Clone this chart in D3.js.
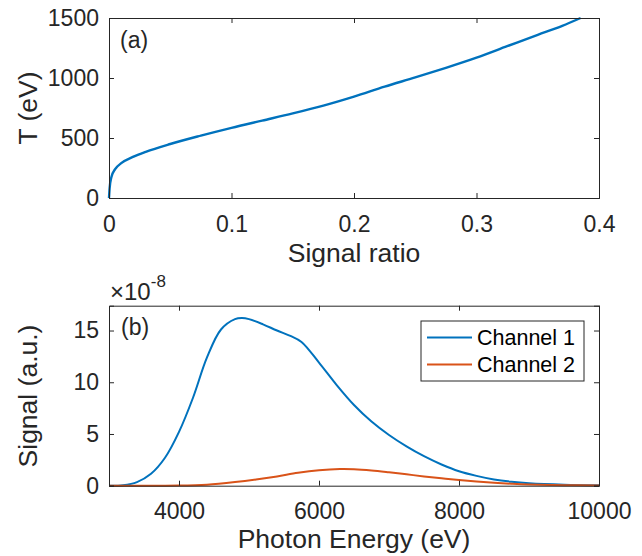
<!DOCTYPE html>
<html>
<head>
<meta charset="utf-8">
<script src="https://cdn.jsdelivr.net/npm/d3@7"></script>
<style>
  body { margin: 0; background: #fff; }
  svg text { font-family: "Liberation Sans", Arial, Helvetica, sans-serif; fill: #262626; }
</style>
</head>
<body>
<div id="chart"></div>
<script>
// Panel (a): temperature vs signal ratio
const ratio = [0, 0.0005, 0.002, 0.005, 0.01, 0.02, 0.03, 0.05, 0.075, 0.1, 0.125, 0.15, 0.175, 0.2, 0.225, 0.25, 0.275, 0.3, 0.325, 0.35, 0.37, 0.385];
const tempEV = [0, 80, 175, 240, 290, 345, 385, 450, 520, 585, 645, 705, 770, 845, 928, 1005, 1085, 1170, 1265, 1360, 1435, 1500];

// Panel (b): signal vs photon energy (x 1e-8)
const energy1 = [3000, 3200, 3400, 3600, 3800, 4000, 4200, 4400, 4600, 4800, 4900, 5000, 5200, 5400, 5600, 5750, 6000, 6250, 6500, 6750, 7000, 7250, 7500, 7750, 8000, 8250, 8500, 8750, 9000, 9500, 10000];
const channel1 = [0, 0.05, 0.35, 1.15, 2.7, 5.2, 8.5, 12.4, 15.1, 16.1, 16.2, 16.1, 15.6, 15.0, 14.45, 13.9, 11.9, 9.75, 7.8, 6.2, 4.9, 3.8, 2.85, 2.05, 1.4, 0.95, 0.6, 0.38, 0.24, 0.1, 0.04];
const energy2 = [3000, 4000, 4400, 4800, 5100, 5400, 5700, 6000, 6300, 6500, 6750, 7000, 7250, 7500, 7750, 8000, 8250, 8500, 8750, 9000, 9500, 10000];
const channel2 = [0, 0.01, 0.1, 0.35, 0.6, 0.9, 1.25, 1.5, 1.62, 1.6, 1.48, 1.3, 1.1, 0.9, 0.72, 0.55, 0.4, 0.28, 0.19, 0.12, 0.05, 0.02];

const ratioTicks = [0, 0.1, 0.2, 0.3, 0.4];
const tempTicks = [0, 500, 1000, 1500];
const energyTicks = [4000, 6000, 8000, 10000];
const signalTicks = [0, 5, 10, 15];
const seriesNames = ["Channel 1", "Channel 2"];
const seriesColors = ["#0072BD", "#D95319"];

const width = 642, height = 556;
const axisColor = "#262626";
const tickFont = 23, labelFont = 26.5;

const svg = d3.select("#chart").append("svg")
  .attr("width", width)
  .attr("height", height);

// Draw a boxed MATLAB-style axes
function drawAxes(g, x, y, xTicks, yTicks, xFmt, yFmt, xPad) {
  const [x0, x1] = x.range();
  const [y0, y1] = y.range();

  const xAxis = g.append("g").attr("transform", `translate(0,${y0})`)
    .call(d3.axisBottom(x).tickValues(xTicks).tickSize(-5).tickPadding(xPad).tickFormat(xFmt));
  const yAxis = g.append("g").attr("transform", `translate(${x0},0)`)
    .call(d3.axisLeft(y).tickValues(yTicks).tickSize(-5).tickPadding(10).tickFormat(yFmt));
  const xTop = g.append("g").attr("transform", `translate(0,${y1})`)
    .call(d3.axisTop(x).tickValues(xTicks).tickSize(-5).tickFormat(""));
  const yRight = g.append("g").attr("transform", `translate(${x1},0)`)
    .call(d3.axisRight(y).tickValues(yTicks).tickSize(-5).tickFormat(""));

  [xAxis, yAxis, xTop, yRight].forEach(a => {
    a.select(".domain").attr("stroke", axisColor).attr("stroke-width", 1);
    a.selectAll(".tick line").attr("stroke", axisColor).attr("stroke-width", 1);
    a.selectAll(".tick text")
      .attr("font-size", tickFont)
      .style("fill", axisColor);
  });
  xAxis.selectAll(".tick text").attr("dy", "0.35em");
}

// ---- Panel (a)
const xa = d3.scaleLinear().domain([0, 0.4]).range([109, 599]);
const ya = d3.scaleLinear().domain([0, 1500]).range([198, 18]);
const ga = svg.append("g");

ga.append("path")
  .datum(d3.zip(ratio, tempEV))
  .attr("fill", "none")
  .attr("stroke", seriesColors[0])
  .attr("stroke-width", 2.4)
  .attr("d", d3.line().x(d => xa(d[0])).y(d => ya(d[1])).curve(d3.curveMonotoneX));

drawAxes(ga, xa, ya, ratioTicks, tempTicks, d => d === 0 ? "0" : d3.format(".1f")(d), d3.format("d"), 26);

ga.append("text").attr("x", 120).attr("y", 48).attr("font-size", tickFont).text("(a)");
ga.append("text")
  .attr("x", (109 + 599) / 2).attr("y", 262)
  .attr("text-anchor", "middle").attr("font-size", labelFont)
  .text("Signal ratio");
ga.append("text")
  .attr("transform", `translate(37,108) rotate(-90)`)
  .attr("text-anchor", "middle").attr("font-size", labelFont)
  .text("T (eV)");

// ---- Panel (b)
const xb = d3.scaleLinear().domain([3000, 10000]).range([109, 599]);
const yb = d3.scaleLinear().domain([0, 17.4]).range([485.7, 305.7]);
const gb = svg.append("g");

const lineB = d3.line().x(d => xb(d[0])).y(d => yb(d[1])).curve(d3.curveCatmullRom.alpha(0.5));
const seriesB = [d3.zip(energy1, channel1), d3.zip(energy2, channel2)];

gb.selectAll("path.series")
  .data(seriesB)
  .join("path")
  .attr("class", "series")
  .attr("fill", "none")
  .attr("stroke", (d, i) => seriesColors[i])
  .attr("stroke-width", 2)
  .attr("d", lineB);

drawAxes(gb, xb, yb, energyTicks, signalTicks, d3.format("d"), d3.format("d"), 25);

gb.append("text").attr("x", 121).attr("y", 335).attr("font-size", tickFont).text("(b)");

// exponent label
const expo = gb.append("text").attr("x", 110).attr("y", 300).attr("font-size", 24);
expo.append("tspan").text("×10");
expo.append("tspan").attr("dy", -13).attr("font-size", 17).text("-8");

gb.append("text")
  .attr("x", (109 + 599) / 2).attr("y", 548)
  .attr("text-anchor", "middle").attr("font-size", labelFont)
  .text("Photon Energy (eV)");
gb.append("text")
  .attr("transform", `translate(37,396) rotate(-90)`)
  .attr("text-anchor", "middle").attr("font-size", labelFont)
  .text("Signal (a.u.)");

// Legend
const legend = gb.append("g").attr("transform", "translate(421,321)");
legend.append("rect")
  .attr("width", 163).attr("height", 60)
  .attr("fill", "#fff")
  .attr("stroke", axisColor).attr("stroke-width", 1);

const items = legend.selectAll("g.item")
  .data(seriesNames)
  .join("g")
  .attr("class", "item")
  .attr("transform", (d, i) => `translate(0,${16.5 + i * 27})`);

items.append("line")
  .attr("x1", 6).attr("x2", 51)
  .attr("stroke", (d, i) => seriesColors[i])
  .attr("stroke-width", 2);

items.append("text")
  .attr("x", 56).attr("dy", "0.35em")
  .attr("font-size", 21.5)
  .style("fill", "#000")
  .text(d => d);
</script>
</body>
</html>
